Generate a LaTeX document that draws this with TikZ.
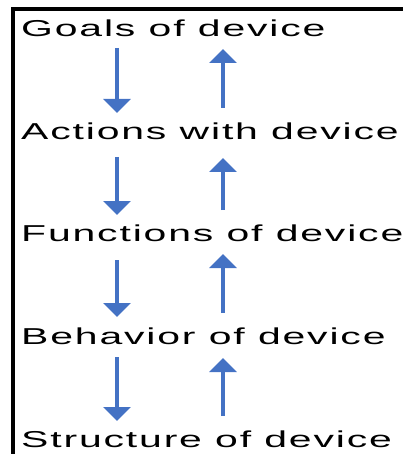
\documentclass[tikz,border=0pt]{standalone}
\usepackage{fontspec}
\usepackage{tikz}
\usetikzlibrary{arrows.meta}
\newfontfamily\levelfont[FakeStretch=1.78,LetterSpace=8]{Liberation Sans}
\definecolor{flowblue}{RGB}{68,114,196}
\tikzstyle{level} = [anchor=base west, inner sep=0pt, font={\levelfont\fontsize{23}{23}\selectfont}]
\tikzstyle{flow} = [draw=flowblue, line width=3.5pt, -{Triangle[width=27pt,length=14pt]}]

\begin{document}
\begin{tikzpicture}[x=1pt, y=-1pt]
  \useasboundingbox (0,0) rectangle (403,454);

  % frame on the left and top
  \draw[line width=4pt] (13.3,454) -- (13.3,9) -- (403,9);

  % the five levels
  \node[level] (goals) at (21,36.5) {Goals of device};
  \node[level] (actions) at (21,139.5) {Actions with device};
  \node[level] (functions) at (21,241) {Functions of device};
  \node[level] (behavior) at (21,344) {Behavior of device};
  \node[level] (structure) at (21,447) {Structure of device};

  % arrow ends, downward column
  \coordinate (dn1s) at (117,48);  \coordinate (dn1e) at (117,113);
  \coordinate (dn2s) at (117,157); \coordinate (dn2e) at (117,215);
  \coordinate (dn3s) at (117,260); \coordinate (dn3e) at (117,317);
  \coordinate (dn4s) at (117,357); \coordinate (dn4e) at (117,421);

  % arrow ends, upward column
  \coordinate (up1s) at (223,108); \coordinate (up1e) at (223,49);
  \coordinate (up2s) at (223,210); \coordinate (up2e) at (223,158);
  \coordinate (up3s) at (223,313); \coordinate (up3e) at (223,254);
  \coordinate (up4s) at (223,416); \coordinate (up4e) at (223,358);

  \draw[flow] (dn1s) -- (dn1e);
  \draw[flow] (dn2s) -- (dn2e);
  \draw[flow] (dn3s) -- (dn3e);
  \draw[flow] (dn4s) -- (dn4e);

  \draw[flow] (up1s) -- (up1e);
  \draw[flow] (up2s) -- (up2e);
  \draw[flow] (up3s) -- (up3e);
  \draw[flow] (up4s) -- (up4e);

\end{tikzpicture}
\end{document}
